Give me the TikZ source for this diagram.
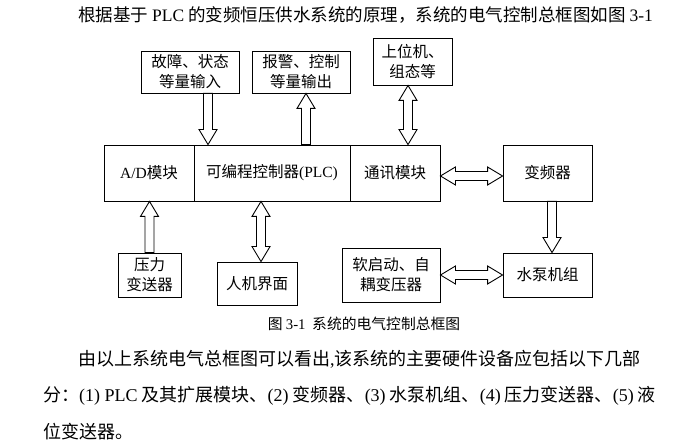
\documentclass[tikz,border=0pt]{standalone}
\usepackage{fontspec}
\setmainfont{Noto Sans CJK SC}
\newfontfamily\lat{Liberation Serif}
\usetikzlibrary{calc}

\newcommand{\blockarrow}[2]{%
\coordinate (ba-h) at ($(#2)!15pt!(#1)$);
\draw[arr] ($(#1)!4.5pt!90:(#2)$) -- ($(ba-h)!4.5pt!90:(#2)$) -- ($(ba-h)!9pt!90:(#2)$) -- (#2)
 -- ($(ba-h)!9pt!-90:(#2)$) -- ($(ba-h)!4.5pt!-90:(#2)$) -- ($(#1)!4.5pt!-90:(#2)$) -- cycle;}
\newcommand{\dblockarrow}[2]{%
\coordinate (ba-a) at ($(#1)!15pt!(#2)$);
\coordinate (ba-b) at ($(#2)!15pt!(#1)$);
\draw[arr] (#1) -- ($(ba-a)!9pt!90:(#2)$) -- ($(ba-a)!4.5pt!90:(#2)$) -- ($(ba-b)!4.5pt!90:(#2)$)
 -- ($(ba-b)!9pt!90:(#2)$) -- (#2) -- ($(ba-b)!9pt!-90:(#2)$) -- ($(ba-b)!4.5pt!-90:(#2)$)
 -- ($(ba-a)!4.5pt!-90:(#2)$) -- ($(ba-a)!9pt!-90:(#2)$) -- cycle;}

\begin{document}
\begin{tikzpicture}[x=1pt,y=-1pt,
  box/.style={draw, line width=0.9pt, inner sep=0pt, align=center, font=\fontsize{15.5}{20}\selectfont},
  arr/.style={line width=0.9pt, line join=miter},
  para/.style={inner sep=0pt, anchor=west, font=\fontsize{18}{18}\selectfont},
  captext/.style={inner sep=0pt, font=\fontsize{14.8}{14.8}\selectfont}]
\useasboundingbox (0,0) rectangle (700,443);

\node[para, anchor=center, font=\fontsize{17.5}{17.5}\selectfont] (title) at (365.5,15) {根据基于 {\lat PLC} 的变频恒压供水系统的原理，系统的电气控制总框图如图 {\lat 3-1}};

\node[box, minimum width=98pt, minimum height=42pt] (fault) at (190,72) {故障、状态\\等量输入};
\node[box, minimum width=98pt, minimum height=42pt] (alarm) at (301,72) {报警、控制\\等量输出};
\node[box, minimum width=79pt, minimum height=47pt] (host) at (412.5,61.5) {上位机、\\组态等};

\node[box, minimum width=90pt, minimum height=56pt] (ad) at (149,173) {{\lat A/D}模块};
\node[box, minimum width=156pt, minimum height=56pt] (plc) at (272,173) {可编程控制器{\lat (PLC)}};
\node[box, minimum width=90pt, minimum height=56pt] (comm) at (395,173) {通讯模块};
\node[box, minimum width=89pt, minimum height=56pt] (inverter) at (547.5,173) {变频器};

\node[box, minimum width=63pt, minimum height=44pt] (sensor) at (149.5,275) {压力\\变送器};
\node[box, minimum width=80pt, minimum height=43pt] (hmi) at (257,283.5) {人机界面};
\node[box, minimum width=98pt, minimum height=54pt] (soft) at (391,275) {软启动、自\\耦变压器};
\node[box, minimum width=89pt, minimum height=44pt] (pump) at (547.5,275) {水泵机组};

\coordinate (f1) at ($(fault.south)+(18,0)$);
\coordinate (f2) at (f1 |- plc.north);
\coordinate (a1) at ($(alarm.south)+(5,0)$);
\coordinate (a2) at (a1 |- plc.north);
\coordinate (h1) at ($(host.south)+(-4.5,0)$);
\coordinate (h2) at (h1 |- comm.north);
\coordinate (s2) at (sensor.north |- ad.south);
\coordinate (m1) at ($(hmi.north)+(4,0)$);
\coordinate (m2) at (m1 |- plc.south);
\coordinate (c1) at ($(comm.east)+(0,3)$);
\coordinate (c2) at (c1 -| inverter.west);
\coordinate (v1) at ($(inverter.south)+(4.5,0)$);
\coordinate (v2) at (v1 |- pump.north);

\blockarrow{f1}{f2}
\blockarrow{a2}{a1}
\dblockarrow{h1}{h2}
\blockarrow{sensor.north}{s2}
\dblockarrow{m1}{m2}
\dblockarrow{c1}{c2}
\blockarrow{v1}{v2}
\dblockarrow{soft.east}{pump.west}

\node[captext] (caption) at (364,324) {图 {\lat 3-1}\ \ 系统的电气控制总框图};

\node[para] (line1) at (78,359) {由以上系统电气总框图可以看出{\lat ,}该系统的主要硬件设备应包括以下几部};
\node[para] (line2) at (43,396) {分：{\lat (1) PLC} 及其扩展模块、{\lat (2)} 变频器、{\lat (3)} 水泵机组、{\lat (4)} 压力变送器、{\lat (5)} 液};
\node[para] (line3) at (43,432) {位变送器。};
\end{tikzpicture}
\end{document}
